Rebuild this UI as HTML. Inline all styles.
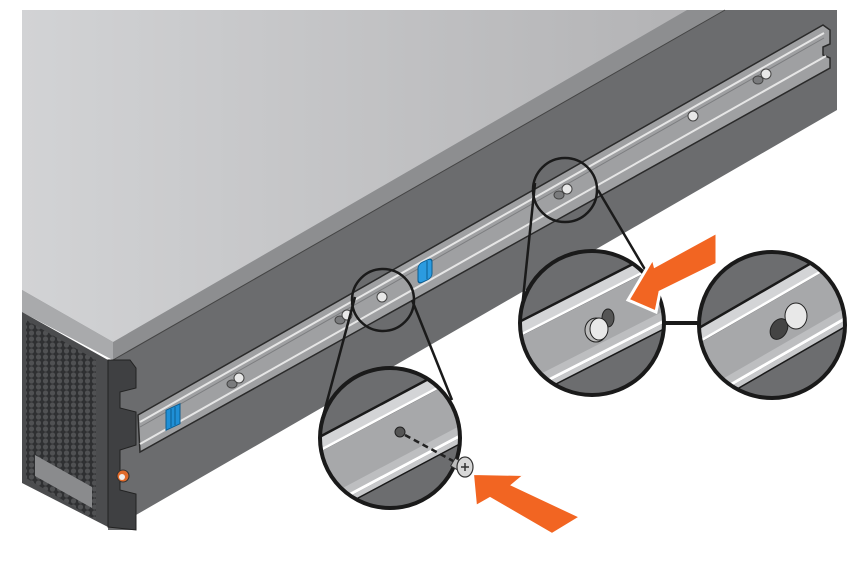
<!DOCTYPE html>
<html><head><meta charset="utf-8"><style>
html,body{margin:0;padding:0;background:#fff;}
svg{display:block;}
</style></head><body>
<svg width="864" height="574" viewBox="0 0 864 574" xmlns="http://www.w3.org/2000/svg">
<defs>
<linearGradient id="topg" x1="0" y1="0" x2="1" y2="0">
<stop offset="0" stop-color="#d2d3d5"/><stop offset="1" stop-color="#b3b3b5"/>
</linearGradient>
<pattern id="mesh" width="7" height="6" patternUnits="userSpaceOnUse">
<rect width="7" height="6" fill="#2f3032"/>
<circle cx="3.5" cy="3" r="2.6" fill="#505153"/>
</pattern>
<clipPath id="c1"><circle cx="390" cy="438" r="70"/></clipPath>
<clipPath id="c2"><circle cx="592" cy="323" r="72"/></clipPath>
<clipPath id="c3"><circle cx="772" cy="325" r="73"/></clipPath>
<g id="band">
<rect x="-120" y="-120" width="240" height="240" fill="#6c6d6f"/>
<rect x="-120" y="-34" width="240" height="11" fill="#d3d4d6"/>
<line x1="-120" y1="-34" x2="120" y2="-34" stroke="#1a1a1a" stroke-width="2.5"/>
<line x1="-120" y1="-22" x2="120" y2="-22" stroke="#fff" stroke-width="2.5"/>
<rect x="-120" y="-20.5" width="240" height="50" fill="#a7a8aa"/>
<rect x="-120" y="22" width="240" height="8" fill="#bdbec0"/>
<line x1="-120" y1="31" x2="120" y2="31" stroke="#fff" stroke-width="3"/>
<rect x="-120" y="32.5" width="240" height="5" fill="#c8c9cb"/>
<line x1="-120" y1="38" x2="120" y2="38" stroke="#1a1a1a" stroke-width="1.5"/>
</g>
</defs>

<polygon points="22,10 725,10 113,360 22,312" fill="#8d8e90"/>
<polygon points="22,10 687,10 113,342 22,290" fill="url(#topg)"/>
<polygon points="22,290 113,342 113,360 22,312" fill="#a9aaac"/>
<polygon points="725,10 837,10 837,110 136,515 136,530 108,530 108,360 113,360" fill="#6b6c6e"/>
<line x1="113" y1="360" x2="725" y2="10" stroke="#444" stroke-width="1"/>

<polygon points="22,312 108,360 108,527 22,483" fill="#4b4c4e"/>
<polygon points="26,320 96,360 96,520 26,478" fill="url(#mesh)"/>
<polygon points="35,455 92,487 92,508 35,476" fill="#8a8b8d"/>
<polygon points="108,360 130,360 136,368 136,388 120,392 120,408 136,412 136,445 120,450 120,490 136,494 136,530 108,527" fill="#3f4042" stroke="#222" stroke-width="1"/>
<circle cx="123" cy="476" r="6" fill="#e06a2a" stroke="#333" stroke-width="1"/>
<circle cx="122" cy="477" r="3" fill="#eee"/>

<polygon points="138,415 823,25 830,30 830,44 823,47 823,55 830,58 830,68 140,452" fill="#9fa0a2" stroke="#2a2a2a" stroke-width="1.5"/>
<line x1="140" y1="422" x2="824" y2="33" stroke="#e6e6e6" stroke-width="2"/>
<line x1="140" y1="427" x2="824" y2="38" stroke="#7d7e80" stroke-width="1"/>
<line x1="140" y1="444" x2="826" y2="56" stroke="#e6e6e6" stroke-width="2"/>
<g transform="translate(173,417) skewY(-25)"><rect x="-7" y="-10" width="14" height="20" fill="#1f8fd6" stroke="#0b5c90"/><path d="M-2 -9v18M2 -9v18" stroke="#0b5c90"/></g>
<g transform="translate(425,271) skewY(-25)"><rect x="-7" y="-10" width="14" height="20" rx="4" fill="#2b9be0" stroke="#0b5c90"/><path d="M2 -9v18" stroke="#0b5c90"/></g>
<g fill="#e8e8e8" stroke="#444" stroke-width="1">
<ellipse cx="232" cy="384" rx="5" ry="4" fill="#7a7b7d"/><circle cx="239" cy="378" r="5"/>
<ellipse cx="340" cy="320" rx="5" ry="4" fill="#7a7b7d"/><circle cx="347" cy="315" r="5"/>
<ellipse cx="559" cy="195" rx="5" ry="4" fill="#7a7b7d"/><circle cx="567" cy="189" r="5"/>
<ellipse cx="758" cy="80" rx="5" ry="4" fill="#7a7b7d"/><circle cx="766" cy="74" r="5"/>
<circle cx="382" cy="297" r="5"/><circle cx="693" cy="116" r="5"/>
</g>

<g stroke="#1a1a1a" stroke-width="2.5" fill="none">
<line x1="355" y1="297" x2="322" y2="420"/>
<line x1="412" y1="300" x2="452" y2="400"/>
<line x1="535" y1="183" x2="521" y2="318"/>
<line x1="598" y1="190" x2="650" y2="278"/>
<line x1="664" y1="323" x2="700" y2="323" stroke-width="4"/>
<circle cx="383" cy="300" r="31"/>
<circle cx="565" cy="190" r="32"/>
</g>

<g clip-path="url(#c1)"><use href="#band" transform="translate(390,438) rotate(-28)"/>
<circle cx="400" cy="432" r="5" fill="#555" stroke="#222" stroke-width="1"/>
<line x1="405" y1="435" x2="455" y2="462" stroke="#222" stroke-width="2.5" stroke-dasharray="6,4"/>
</g>
<circle cx="390" cy="438" r="70" fill="none" stroke="#1a1a1a" stroke-width="4"/>
<g clip-path="url(#c2)"><use href="#band" transform="translate(592,323) rotate(-27)"/>
<ellipse cx="608" cy="318" rx="6" ry="9" fill="#555" stroke="#222"/>
<ellipse cx="596" cy="330" rx="11" ry="12" fill="#bbb" stroke="#222"/>
<ellipse cx="599" cy="329" rx="9" ry="11" fill="#e8e8e8" stroke="#222"/>
</g>
<circle cx="592" cy="323" r="72" fill="none" stroke="#1a1a1a" stroke-width="4"/>
<g clip-path="url(#c3)"><use href="#band" transform="translate(772,325) rotate(-30)"/>
<ellipse cx="779" cy="329" rx="8" ry="11" fill="#444" stroke="#222" transform="rotate(30 779 329)"/>
<ellipse cx="796" cy="316" rx="11" ry="13" fill="#e8e8e8" stroke="#222"/>
</g>
<circle cx="772" cy="325" r="73" fill="none" stroke="#1a1a1a" stroke-width="4"/>

<g>
<rect x="452" y="460" width="10" height="9" fill="#bbb" stroke="#333" transform="rotate(30 457 465)"/>
<ellipse cx="465" cy="467" rx="8" ry="10" fill="#d8d8d8" stroke="#333" stroke-width="1.2"/>
<path d="M461 467 h8 M465 463 v8" stroke="#333" stroke-width="1.5"/>
</g>

<polygon points="628,300 653,258 655,266 717,232 717,264 660,292 656,312" fill="#f26522" stroke="#fff" stroke-width="3"/>
<polygon points="473,474 524,475 512,485 580,517 552,534 490,498 476,506" fill="#f26522" stroke="#fff" stroke-width="2"/>
</svg>
</body></html>
